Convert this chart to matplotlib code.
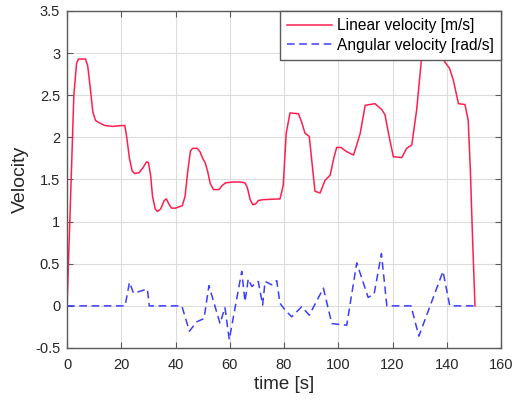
import matplotlib.pyplot as plt

# Linear velocity [m/s]
lin_t = [0, 2.5, 3.5, 4.2, 6.8, 7.6, 8.5, 9.5, 10.5, 12, 14, 17, 20, 21.3, 22, 23, 24,
         25, 26.5, 28, 29.3, 30, 30.8, 31.5, 32.5, 33.3, 34.5, 35.8, 36.6, 37.5, 38.5,
         40, 42.5, 43.5, 44.5, 45.5, 46.3, 48, 49, 50, 50.9, 51.8, 52.8, 54, 56, 57.2,
         58.5, 61, 64, 65.6, 66.5, 67.5, 68.5, 69.5, 70.5, 72, 78.5, 79.7, 80.8, 82.2,
         85.3, 86.5, 87.7, 89.3, 90.3, 91.4, 93.3, 95.1, 97, 98.3, 99.4, 101, 103.1,
         105.6, 106.5, 108.1, 109.9, 113.5, 116, 117.2, 118.8, 120.3, 123.4, 125.2,
         127.1, 128.9, 130.7, 132.5, 135, 137.2, 138.5, 141, 142.4, 144.3, 146.7, 147.9,
         148.7, 149.5, 150.4]
lin_v = [0, 2.5, 2.88, 2.93, 2.93, 2.85, 2.6, 2.3, 2.2, 2.17, 2.14, 2.13, 2.14, 2.14,
         2.0, 1.75, 1.6, 1.57, 1.58, 1.64, 1.71, 1.70, 1.55, 1.3, 1.15, 1.12, 1.15, 1.25,
         1.27, 1.21, 1.16, 1.16, 1.19, 1.3, 1.6, 1.84, 1.87, 1.87, 1.83, 1.75, 1.70, 1.6,
         1.45, 1.38, 1.38, 1.43, 1.46, 1.47, 1.47, 1.46, 1.40, 1.26, 1.20, 1.21, 1.25,
         1.26, 1.27, 1.43, 2.05, 2.29, 2.28, 2.18, 2.05, 2.01, 1.7, 1.36, 1.34, 1.49,
         1.55, 1.75, 1.88, 1.88, 1.83, 1.79, 1.88, 2.05, 2.38, 2.40, 2.33, 2.27, 2.0,
         1.77, 1.76, 1.87, 1.91, 2.33, 2.94, 3.06, 3.08, 3.02, 2.93, 2.82, 2.68, 2.40,
         2.39, 2.2, 1.6, 0.8, 0]

# Angular velocity [rad/s]
ang_t = [0, 21.4, 23, 24.5, 29.6, 30.3, 42.3, 45.1, 47.8, 50.5, 52.3, 56.4, 58.2, 59.8,
         64.4, 65.6, 66.8, 68.1, 70.5, 72.1, 73, 75.5, 77.3, 78.5, 80.4, 82.8, 86.5,
         89.3, 94.5, 97.6, 103.1, 106.8, 111, 113.2, 115.9, 117.9, 126.8, 129.7, 138.6,
         141.1, 150.4]
ang_v = [0, 0, 0.28, 0.15, 0.2, 0, 0, -0.30, -0.19, -0.15, 0.24, -0.21, -0.02, -0.40,
         0.41, 0.05, 0.32, 0.23, 0.29, 0.01, 0.29, 0.25, 0.30, 0.03, -0.05, -0.13, -0.01,
         -0.11, 0.21, -0.21, -0.23, 0.51, 0.10, 0.14, 0.62, 0, 0, -0.36, 0.41, 0, 0]

plt.rcParams["font.family"] = ["Liberation Sans", "DejaVu Sans"]

fig = plt.figure(figsize=(5.16, 4.07), dpi=100)
ax = fig.add_axes([0.130, 0.145, 0.841, 0.828])

ax.plot(lin_t, lin_v, color="#ff1f4f", linewidth=1.1, label="Linear velocity [m/s]")
ax.plot(ang_t, ang_v, color="#3d3dff", linewidth=1.1, linestyle=(0, (5, 3)),
        label="Angular velocity [rad/s]")

ax.set_xlim(0, 160)
ax.set_ylim(-0.5, 3.5)
ax.set_xticks(range(0, 161, 20))
ax.set_yticks([-0.5, 0, 0.5, 1, 1.5, 2, 2.5, 3, 3.5])
ax.set_yticklabels(["-0.5", "0", "0.5", "1", "1.5", "2", "2.5", "3", "3.5"])

ax.grid(True, color="#dcdcdc", linewidth=0.8)
ax.set_axisbelow(True)
for s in ax.spines.values():
    s.set_color("#5a5a5a")
    s.set_linewidth(1.0)
ax.tick_params(direction="in", top=True, right=True, length=4, color="#5a5a5a",
               labelsize=10.5, labelcolor="#262626")
ax.tick_params(axis="x", pad=7)
ax.tick_params(axis="y", pad=5)

ax.set_xlabel("time [s]", fontsize=13.5, color="#262626", labelpad=3)
ax.set_ylabel("Velocity", fontsize=14, color="#262626", labelpad=4)

leg = ax.legend(loc="upper right", fontsize=11.2, handlelength=2.9, fancybox=False,
                framealpha=1, borderpad=0.45, labelspacing=0.3, handletextpad=0.3,
                borderaxespad=0)
leg.get_frame().set_edgecolor("#5a5a5a")
leg.get_frame().set_linewidth(1.0)

fig.savefig("out.png", dpi=100)
